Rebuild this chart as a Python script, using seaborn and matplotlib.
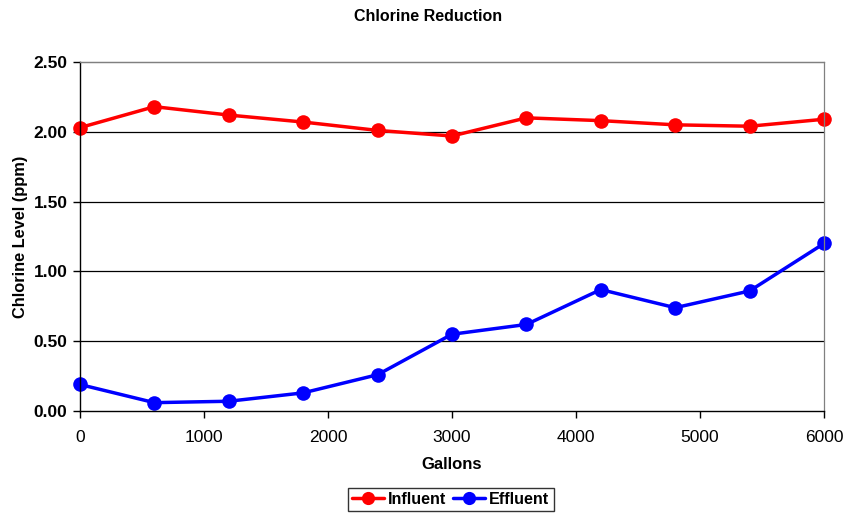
import matplotlib
matplotlib.use("Agg")
import matplotlib.pyplot as plt
import seaborn as sns
import pandas as pd
from matplotlib.lines import Line2D

gallons = [0, 600, 1200, 1800, 2400, 3000, 3600, 4200, 4800, 5400, 6000]
influent = [2.03, 2.18, 2.12, 2.07, 2.01, 1.97, 2.10, 2.08, 2.05, 2.04, 2.09]
effluent = [0.19, 0.06, 0.07, 0.13, 0.26, 0.55, 0.62, 0.87, 0.74, 0.86, 1.20]
series_names = ["Influent", "Effluent"]
colors = ["#ff0000", "#0000ff"]
y_ticks = [0.0, 0.5, 1.0, 1.5, 2.0, 2.5]
x_ticks = [0, 1000, 2000, 3000, 4000, 5000, 6000]

df = pd.DataFrame({
    "Gallons": gallons * 2,
    "Level": influent + effluent,
    "Series": [series_names[0]] * len(gallons) + [series_names[1]] * len(gallons),
})

sns.set_theme(style="white")
plt.rcParams["font.family"] = ["Liberation Sans", "DejaVu Sans"]
plt.rcParams.update({"text.color": "black", "axes.labelcolor": "black",
                     "xtick.color": "black", "ytick.color": "black"})

fig = plt.figure(figsize=(8.57, 5.15), dpi=100)
ax = fig.add_axes([0.0933, 0.2019, 0.8682, 0.6777])

sns.lineplot(data=df, x="Gallons", y="Level", hue="Series", palette=colors,
             marker="o", markersize=10.5, markeredgewidth=0, linewidth=2.5,
             ax=ax, legend=False)

ax.set_xlim(0, 6000)
ax.set_ylim(0, 2.5)
ax.set_yticks(y_ticks)
ax.set_yticklabels([f"{v:.2f}" for v in y_ticks], fontweight="bold", fontsize=12.5)
ax.set_xticks(x_ticks)
ax.set_xticklabels([str(v) for v in x_ticks], fontsize=12.5)
for v in y_ticks[1:-1]:
    ax.axhline(v, color="black", linewidth=0.9, zorder=0)
ax.axhline(2.5, color="#808080", linewidth=0.9, zorder=0)
ax.tick_params(axis="both", direction="out", length=5, width=1, color="black",
               bottom=True, left=True)
ax.tick_params(axis="x", pad=9)
ax.tick_params(axis="y", pad=4)
for side in ["top", "right"]:
    ax.spines[side].set_color("#808080")
    ax.spines[side].set_linewidth(0.9)
for side in ["left", "bottom"]:
    ax.spines[side].set_color("black")
    ax.spines[side].set_linewidth(1.0)
for line in ax.lines:
    line.set_clip_on(False)

ax.set_xlabel("Gallons", fontweight="bold", fontsize=12, labelpad=8)
ax.set_ylabel("Chlorine Level (ppm)", fontweight="bold", fontsize=11.8, labelpad=4)
fig.text(0.5, 0.967, "Chlorine Reduction", ha="center", va="center",
         fontweight="bold", fontsize=11.5)

handles = [Line2D([], [], color=c, marker="o", markersize=9.5, linewidth=2.5,
                  markeredgewidth=0) for c in colors]
leg = fig.legend(handles, series_names, loc="center", bbox_to_anchor=(0.526, 0.031),
                 ncol=2, frameon=True, fancybox=False, edgecolor="black",
                 prop={"weight": "bold", "size": 11.6}, handlelength=2.0,
                 columnspacing=0.4, handletextpad=0.25, borderpad=0.25,
                 borderaxespad=0)
leg.get_frame().set_linewidth(1.0)

fig.savefig("out.png", dpi=100)
